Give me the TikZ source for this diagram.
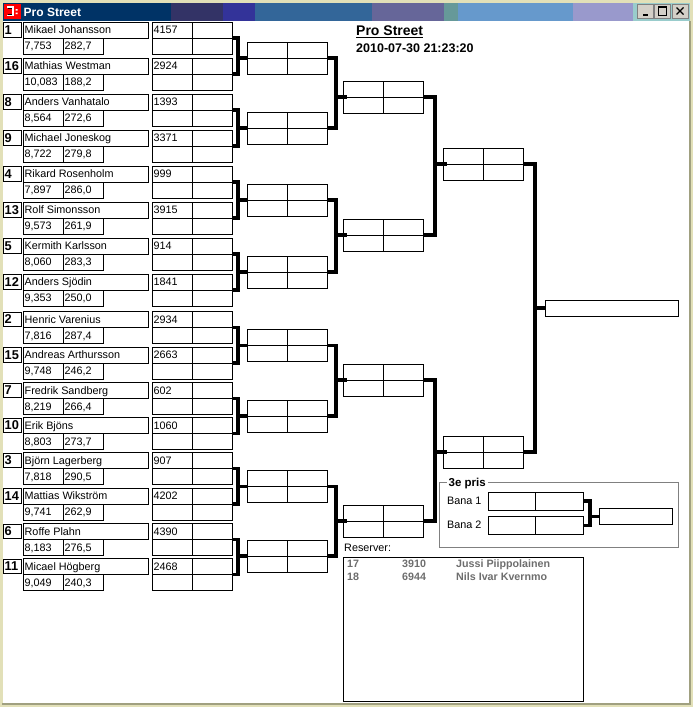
\documentclass[tikz,border=0pt]{standalone}
\usepackage{fontspec}
\setmainfont{Liberation Sans}
\newcommand\fN{\fontsize{10.8}{12}\selectfont}
\newcommand\fSeed{\fontsize{12.8}{14}\selectfont\bfseries}
\newcommand\fRes{\fontsize{10.7}{12}\selectfont\bfseries}
\definecolor{frame}{RGB}{226,224,184}
\definecolor{framedk}{RGB}{160,160,128}
\definecolor{tbA}{HTML}{003366}
\definecolor{tbB}{HTML}{333366}
\definecolor{tbC}{HTML}{333399}
\definecolor{tbD}{HTML}{336699}
\definecolor{tbE}{HTML}{666699}
\definecolor{tbF}{HTML}{669999}
\definecolor{tbG}{HTML}{6699CC}
\definecolor{tbH}{HTML}{9999CC}
\definecolor{tbI}{HTML}{99CCCC}
\definecolor{btnface}{RGB}{212,208,200}
\definecolor{restxt}{RGB}{110,110,110}
\definecolor{grpline}{RGB}{128,128,128}
\tikzset{
  bx/.style={draw=black, line width=1pt, inner sep=0pt, outer sep=0pt},
  br/.style={line width=3.1pt},
  tx/.style={inner sep=0pt, anchor=base west, font=\fN},
  btn/.style={fill=btnface, draw=gray, line width=0.8pt, inner sep=0pt, minimum width=16pt, minimum height=14pt},
}
% entry: top, seed, name, time, speed, number, id
\newcommand{\entry}[7]{%
  \node[bx, minimum width=18pt, minimum height=14.5pt] (#7s) at (12,#1+7.75) {};
  \node[tx, font=\fSeed] (#7sn) at (4.5,#1+12.2) {#2};
  \node[bx, minimum width=125pt, minimum height=16pt] (#7n) at (85.5,#1+8) {};
  \node[tx] (#7nt) at (24.5,#1+11.8) {#3};
  \node[bx, minimum width=40pt, minimum height=16pt] (#7t) at (43,#1+24) {};
  \node[bx, minimum width=40pt, minimum height=16pt] (#7v) at (83,#1+24) {};
  \node[tx] (#7tt) at (24.5,#1+27.8) {#4};
  \node[tx] (#7vt) at (64.5,#1+27.8) {#5};
  \node[bx, minimum width=80pt, minimum height=32pt] (#7) at (192,#1+16) {};
  \draw[bx] (#7.west) -- (#7.east) (#7.north) -- (#7.south);
  \node[tx] (#7ct) at (153.5,#1+11.8) {#6};
}
% round box: name, cx, cy
\newcommand{\rbox}[3]{%
  \node[bx, minimum width=80pt, minimum height=32pt] (#1) at (#2,#3) {};
  \draw[bx] (#1.west) -- (#1.east) (#1.north) -- (#1.south);
}
% bracket: A, B, C, dx, overshoot
\newcommand{\bracket}[5]{%
  \draw[br] (#1.east) -- ++(#4,0) coordinate (#1b) -- (#1b |- #2.east) -- (#2.east);
  \draw[br] (#1b |- #3.west) -- ([xshift=#5]#3.west);
}
\begin{document}
\begin{tikzpicture}[x=1pt,y=-1pt]
\useasboundingbox (0,0) rectangle (693,707);
% window frame
\fill[frame] (0,0) rectangle (693,707);
\fill[white] (2.5,21.2) rectangle (689,703);
\draw[framedk, line width=1.5pt] (689.8,21) -- (689.8,703.8) -- (2,703.8);
% title bar
\fill[tbA] (2.5,3) rectangle (171,20.8);
\fill[tbB] (171,3) rectangle (223,20.8);
\fill[tbC] (223,3) rectangle (255,20.8);
\fill[tbD] (255,3) rectangle (372,20.8);
\fill[tbE] (372,3) rectangle (444,20.8);
\fill[tbF] (444,3) rectangle (458,20.8);
\fill[tbG] (458,3) rectangle (573,20.8);
\fill[tbH] (573,3) rectangle (633,20.8);
\fill[tbI] (633,3) rectangle (690,20.8);
% icon
\fill[red] (4,3.5) rectangle (20.7,19.3);
\draw[white, line width=1.4pt] (7,7) -- (13,7) -- (13,15.5) -- (7,15.5);
\draw[black, line width=1pt] (8,8.5) -- (12,8.5) (8,14) -- (12,14);
\fill[white] (15.5,9) rectangle (17.5,10.5) (15.5,12.5) rectangle (17.5,14);
\node[inner sep=0pt, anchor=base west, text=white, font=\fontsize{12}{14}\selectfont\bfseries] (wtitle) at (23.5,16) {Pro Street};
% buttons
\node[btn] (bmin) at (645.5,11) {};
\node[btn] (bmax) at (662.5,11) {};
\node[btn] (bcls) at (680,11) {};
\fill[black] ([xshift=-3pt,yshift=-3pt]bmin.center) rectangle ([xshift=2pt,yshift=-4.6pt]bmin.center);
\draw[black, line width=0.9pt] ([xshift=-4.5pt,yshift=4pt]bmax.center) rectangle ([xshift=4pt,yshift=-4pt]bmax.center);
\draw[black, line width=1.6pt] ([xshift=-4.5pt,yshift=4pt]bmax.center) -- ([xshift=4pt,yshift=4pt]bmax.center);
\draw[black, line width=1.3pt] ([xshift=-3.5pt,yshift=3.5pt]bcls.center) -- ([xshift=3.5pt,yshift=-3.5pt]bcls.center)
  ([xshift=-3.5pt,yshift=-3.5pt]bcls.center) -- ([xshift=3.5pt,yshift=3.5pt]bcls.center);
% heading
\node[inner sep=0pt, anchor=base west, font=\fontsize{14}{16}\selectfont\bfseries] (htitle) at (356,35.5) {Pro Street};
\draw[line width=1.1pt] ([yshift=-1.8pt]htitle.base west) -- ([yshift=-1.8pt]htitle.base east);
\node[inner sep=0pt, anchor=base west, font=\fontsize{12.5}{14}\selectfont\bfseries] (hdate) at (356,52.3) {2010-07-30 21:23:20};
% entries
\entry{22}{1}{Mikael Johansson}{7,753}{282,7}{4157}{e1}
\entry{58}{16}{Mathias Westman}{10,083}{188,2}{2924}{e2}
\entry{94}{8}{Anders Vanhatalo}{8,564}{272,6}{1393}{e3}
\entry{130}{9}{Michael Joneskog}{8,722}{279,8}{3371}{e4}
\entry{166}{4}{Rikard Rosenholm}{7,897}{286,0}{999}{e5}
\entry{202}{13}{Rolf Simonsson}{9,573}{261,9}{3915}{e6}
\entry{238}{5}{Kermith Karlsson}{8,060}{283,3}{914}{e7}
\entry{274}{12}{Anders Sjödin}{9,353}{250,0}{1841}{e8}
\entry{311.5}{2}{Henric Varenius}{7,816}{287,4}{2934}{e9}
\entry{347}{15}{Andreas Arthursson}{9,748}{246,2}{2663}{e10}
\entry{382.5}{7}{Fredrik Sandberg}{8,219}{266,4}{602}{e11}
\entry{417.5}{10}{Erik Bjöns}{8,803}{273,7}{1060}{e12}
\entry{452.5}{3}{Björn Lagerberg}{7,818}{290,5}{907}{e13}
\entry{488}{14}{Mattias Wikström}{9,741}{262,9}{4202}{e14}
\entry{523.5}{6}{Roffe Plahn}{8,183}{276,5}{4390}{e15}
\entry{558.5}{11}{Micael Högberg}{9,049}{240,3}{2468}{e16}
% round 2
\rbox{a1}{287}{58}
\rbox{a2}{287}{128}
\rbox{a3}{287}{200}
\rbox{a4}{287}{272}
\rbox{a5}{287}{345.5}
\rbox{a6}{287}{416}
\rbox{a7}{287}{486.5}
\rbox{a8}{287}{556}
% round 3
\rbox{b1}{383}{97}
\rbox{b2}{383}{235}
\rbox{b3}{383}{380}
\rbox{b4}{383}{521}
% round 4
\rbox{c1}{483}{164}
\rbox{c2}{483}{452}
% final
\node[bx, minimum width=133pt, minimum height=16pt] (fin) at (611.5,308) {};
% brackets
\bracket{e1}{e2}{a1}{6}{0pt}
\bracket{e3}{e4}{a2}{6}{0pt}
\bracket{e5}{e6}{a3}{6}{0pt}
\bracket{e7}{e8}{a4}{6}{0pt}
\bracket{e9}{e10}{a5}{6}{0pt}
\bracket{e11}{e12}{a6}{6}{0pt}
\bracket{e13}{e14}{a7}{6}{0pt}
\bracket{e15}{e16}{a8}{6}{0pt}
\bracket{a1}{a2}{b1}{9}{4pt}
\bracket{a3}{a4}{b2}{9}{4pt}
\bracket{a5}{a6}{b3}{9}{4pt}
\bracket{a7}{a8}{b4}{9}{4pt}
\bracket{b1}{b2}{c1}{12}{4pt}
\bracket{b3}{b4}{c2}{12}{4pt}
\bracket{c1}{c2}{fin}{12}{0pt}
% 3e pris
\draw[grpline, line width=1pt] (439.5,482) rectangle (678.5,547);
\node[fill=white, inner xsep=2pt, inner ysep=2pt, anchor=base west, font=\fontsize{11.5}{13}\selectfont\bfseries] (tp) at (446.5,486.5) {3e pris};
\node[tx] (bana1l) at (447,504.2) {Bana 1};
\node[tx] (bana2l) at (447,528.2) {Bana 2};
\node[bx, minimum width=95pt, minimum height=18pt] (bana1) at (535.5,501) {};
\draw[bx] (bana1.north) -- (bana1.south);
\node[bx, minimum width=95pt, minimum height=18.5pt] (bana2) at (535.5,525.5) {};
\draw[bx] (bana2.north) -- (bana2.south);
\node[bx, minimum width=73pt, minimum height=16pt] (third) at (635.5,516.3) {};
\bracket{bana1}{bana2}{third}{7}{0pt}
% reserver
\node[tx] (resl) at (344,551.3) {Reserver:};
\node[bx, minimum width=240pt, minimum height=144pt] (resbox) at (463,629) {};
\node[tx, font=\fRes, text=restxt] (r1a) at (347,567.6) {17};
\node[tx, font=\fRes, text=restxt] (r1b) at (402,567.6) {3910};
\node[tx, font=\fRes, text=restxt] (r1c) at (456,567.6) {Jussi Piippolainen};
\node[tx, font=\fRes, text=restxt] (r2a) at (347,580) {18};
\node[tx, font=\fRes, text=restxt] (r2b) at (402,580) {6944};
\node[tx, font=\fRes, text=restxt] (r2c) at (456,580) {Nils Ivar Kvernmo};
\end{tikzpicture}
\end{document}
